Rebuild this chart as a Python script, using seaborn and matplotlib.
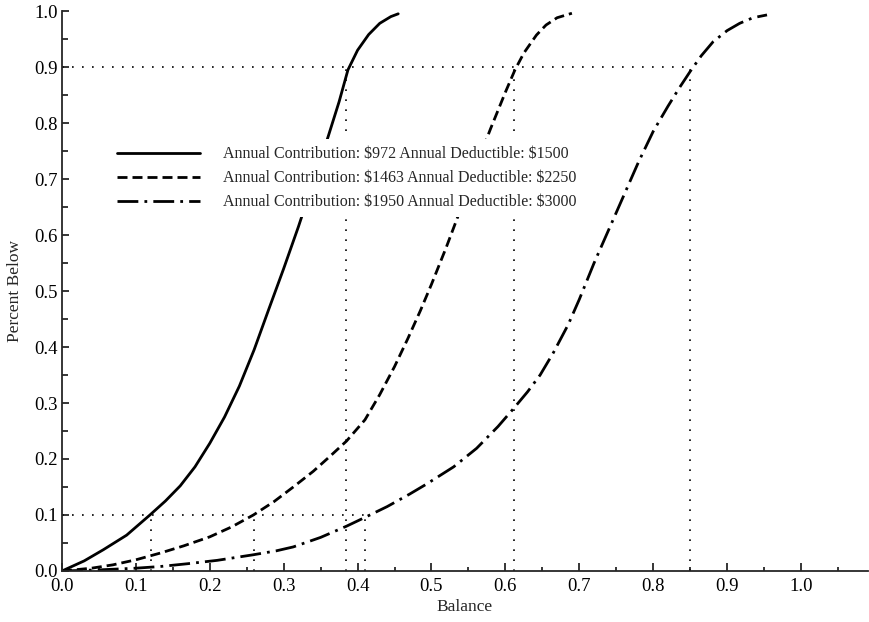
import matplotlib
matplotlib.use("Agg")
import matplotlib.pyplot as plt
from matplotlib.ticker import MultipleLocator, FormatStrFormatter
import pandas as pd
import seaborn as sns

# Cumulative share of accounts below a given balance, for three plan designs
labels = [
    r"Annual Contribution: \$972 Annual Deductible: \$1500",
    r"Annual Contribution: \$1463 Annual Deductible: \$2250",
    r"Annual Contribution: \$1950 Annual Deductible: \$3000",
]

bal_972 = [0, 0.03, 0.056, 0.0875, 0.119, 0.14, 0.16, 0.18, 0.20, 0.22, 0.24,
           0.26, 0.28, 0.30, 0.32, 0.34, 0.36, 0.375, 0.387, 0.40, 0.415,
           0.43, 0.445, 0.455]
pct_972 = [0, 0.018, 0.038, 0.064, 0.10, 0.125, 0.152, 0.186, 0.228, 0.275,
           0.33, 0.395, 0.468, 0.54, 0.615, 0.695, 0.775, 0.838, 0.895, 0.93,
           0.958, 0.978, 0.99, 0.995]

bal_1463 = [0, 0.04, 0.069, 0.10, 0.133, 0.165, 0.20, 0.23, 0.259, 0.287,
            0.313, 0.34, 0.362, 0.385, 0.41, 0.43, 0.45, 0.468, 0.485, 0.50,
            0.52, 0.54, 0.56, 0.58, 0.60, 0.613, 0.625, 0.642, 0.655, 0.67,
            0.69]
pct_1463 = [0, 0.005, 0.011, 0.02, 0.032, 0.045, 0.061, 0.079, 0.10, 0.124,
            0.15, 0.178, 0.204, 0.232, 0.27, 0.315, 0.365, 0.415, 0.465, 0.512,
            0.578, 0.648, 0.722, 0.79, 0.855, 0.895, 0.925, 0.957, 0.975, 0.988,
            0.996]

bal_1950 = [0, 0.05, 0.10, 0.133, 0.17, 0.21, 0.259, 0.29, 0.313, 0.35, 0.385,
            0.412, 0.44, 0.47, 0.493, 0.53, 0.561, 0.59, 0.611, 0.63, 0.647,
            0.665, 0.685, 0.70, 0.72, 0.74, 0.76, 0.78, 0.80, 0.82, 0.835,
            0.85, 0.865, 0.881, 0.90, 0.917, 0.935, 0.954]
pct_1950 = [0, 0.002, 0.005, 0.008, 0.013, 0.019, 0.029, 0.036, 0.043, 0.06,
            0.08, 0.097, 0.115, 0.137, 0.155, 0.186, 0.219, 0.258, 0.29, 0.32,
            0.35, 0.39, 0.44, 0.485, 0.55, 0.61, 0.67, 0.73, 0.785, 0.83,
            0.862, 0.892, 0.92, 0.945, 0.965, 0.978, 0.988, 0.993]

# 10th and 90th percentile balances for each plan
p10_levels = [0.12, 0.26, 0.41]
p90_levels = [0.385, 0.612, 0.85]

x_ticks = [0.0, 0.1, 0.2, 0.3, 0.4, 0.5, 0.6, 0.7, 0.8, 0.9, 1.0]
y_ticks = [0.0, 0.1, 0.2, 0.3, 0.4, 0.5, 0.6, 0.7, 0.8, 0.9, 1.0]

sns.set_theme(style="ticks")
plt.rcParams["font.family"] = ["Liberation Serif", "DejaVu Serif"]
plt.rcParams["axes.linewidth"] = 1.3

frames = []
for lab, xs, ys in [(labels[0], bal_972, pct_972),
                    (labels[1], bal_1463, pct_1463),
                    (labels[2], bal_1950, pct_1950)]:
    frames.append(pd.DataFrame({"Balance": xs, "Percent Below": ys, "plan": lab}))
df = pd.concat(frames, ignore_index=True)

fig = plt.figure(figsize=(8.69, 6.22), dpi=100)
ax = fig.add_axes([0.0713, 0.082, 0.927, 0.9003])

styles = ["-", (0, (3.6, 1.8)), (0, (7.5, 2.2, 1.0, 2.2))]
for lab, ls in zip(labels, styles):
    sub = df[df["plan"] == lab]
    sns.lineplot(data=sub, x="Balance", y="Percent Below", ax=ax,
                 color="black", linewidth=2.0, linestyle=ls, label=lab,
                 estimator=None, sort=True)

# Percentile guide lines
dot = (0, (1, 5))
ax.plot([0, max(p90_levels)], [0.9, 0.9], color="black", lw=1.2, linestyle=dot)
ax.plot([0, max(p10_levels)], [0.1, 0.1], color="black", lw=1.2, linestyle=dot)
for v in p10_levels:
    ax.plot([v, v], [0, 0.1], color="black", lw=1.2, linestyle=dot)
for v in p90_levels:
    ax.plot([v, v], [0, 0.9], color="black", lw=1.2, linestyle=dot)

ax.set_xlim(0, 1.09)
ax.set_ylim(0, 1.0)
ax.set_xticks(x_ticks)
ax.set_yticks(y_ticks)
ax.xaxis.set_major_formatter(FormatStrFormatter("%.1f"))
ax.yaxis.set_major_formatter(FormatStrFormatter("%.1f"))
ax.xaxis.set_minor_locator(MultipleLocator(0.05))
ax.yaxis.set_minor_locator(MultipleLocator(0.05))
ax.tick_params(axis="both", which="both", direction="in", colors="black",
               labelsize=13.5, width=1.1)
ax.tick_params(axis="x", which="major", length=6, pad=5)
ax.tick_params(axis="x", which="minor", length=3)
ax.tick_params(axis="y", which="major", length=5, pad=3)
ax.tick_params(axis="y", which="minor", length=4)
sns.despine(ax=ax)

ax.set_xlabel("Balance", fontsize=12.5, labelpad=3)
ax.set_ylabel("Percent Below", fontsize=12.5, labelpad=8)

# Legend sits on an opaque white panel that masks the curves behind it
leg = ax.legend(loc="upper left", bbox_to_anchor=(0.1346 - 0.008, 0.765 + 0.0115),
                bbox_transform=fig.transFigure, frameon=True, fancybox=False,
                facecolor="white", edgecolor="none", framealpha=1.0,
                fontsize=11.5, handlelength=5.2, handletextpad=1.4,
                labelspacing=0.5, borderpad=0.45, borderaxespad=0)
for h in leg.get_lines():
    h.set_linewidth(2.0)

fig.savefig("out.png", dpi=100)
